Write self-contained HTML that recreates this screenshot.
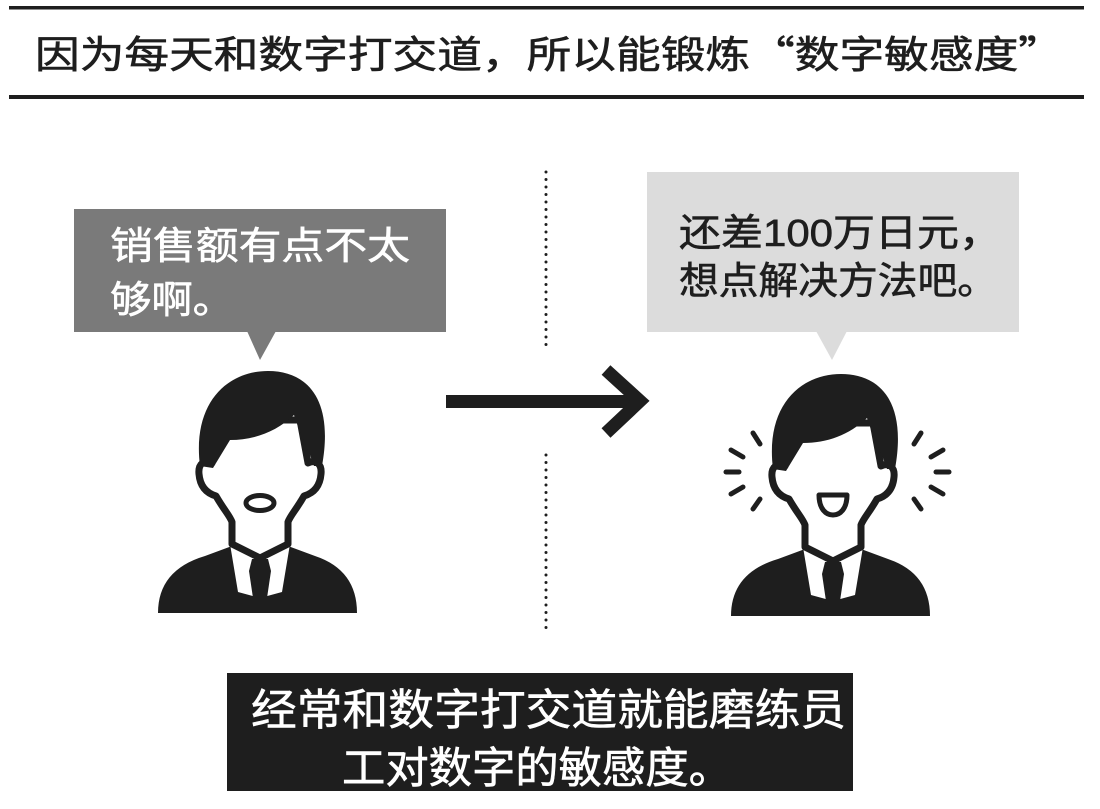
<!DOCTYPE html>
<html><head><meta charset="utf-8"><style>
html,body{margin:0;padding:0;background:#fff;}
svg{display:block;}
text{font-family:"Liberation Sans","Noto Sans CJK SC",sans-serif;}
.cjk{font-family:"Noto Sans CJK SC",sans-serif;}
</style></head><body>
<svg width="1100" height="809" viewBox="0 0 1100 809" xmlns="http://www.w3.org/2000/svg">
<defs>
<g id="body">
  <path d="M8,253 Q8,210 55,196 L82,186 L110,196 L138,186 L165,196 Q207,210 207,253 Z" fill="#1e1e1e"/>
  <path d="M80,184 L110,198 L140,184 L132,232 L110,238 L88,232 Z" fill="#fff"/>
  <path d="M102,199 L118,199 L121,211 L117,238 L103,238 L99,211 Z" fill="#1e1e1e"/>
  <path d="M66,136 C74,150 80,156 82,162 L82,184 L110,198 L138,184 L138,162 C140,156 146,150 154,136 C164,133 170,126 171,114 C172,104 166,99 158,103 L150,60 L70,60 L62,103 C54,99 48,104 49,114 C50,126 56,133 66,136 Z" fill="#fff" stroke="#1e1e1e" stroke-width="7" stroke-linejoin="round"/>
  <path d="M50,106 C42,42 78,11 118,11 C158,11 184,40 172,106 L164,106 C158,88 150,74 144,55 C126,72 104,80 80,80 L63,108 Z" fill="#1e1e1e"/>
</g>
</defs>
<rect x="9" y="6" width="1075" height="3.5" fill="#1e1e1e"/>
<rect x="9" y="95" width="1075" height="4" fill="#1e1e1e"/>
<text x="35" y="68" font-size="38" textLength="1028" lengthAdjust="spacingAndGlyphs" fill="#1e1e1e" stroke="#1e1e1e" stroke-width="0.6">因为每天和数字打交道，所以能锻炼<tspan class="cjk">“</tspan>数字敏感度<tspan class="cjk">”</tspan></text>

<rect x="74" y="209" width="372" height="123" fill="#7a7a7a"/>
<path d="M247,331 L276,331 L260,360 Z" fill="#7a7a7a"/>
<text x="110" y="259" font-size="38" fill="#fff" stroke="#fff" stroke-width="0.6" textLength="300" lengthAdjust="spacingAndGlyphs">销售额有点不太</text>
<text x="110" y="313" font-size="38" fill="#fff" stroke="#fff" stroke-width="0.6" textLength="124" lengthAdjust="spacingAndGlyphs">够啊。</text>

<rect x="647" y="172" width="372" height="160" fill="#dcdcdc"/>
<path d="M816,331 L847,331 L832,360 Z" fill="#dcdcdc"/>
<text x="679" y="246" font-size="38" fill="#1e1e1e" stroke="#1e1e1e" stroke-width="0.6" textLength="322" lengthAdjust="spacingAndGlyphs">还差100万日元，</text>
<text x="679" y="294" font-size="38" fill="#1e1e1e" stroke="#1e1e1e" stroke-width="0.6" textLength="318" lengthAdjust="spacingAndGlyphs">想点解决方法吧。</text>

<line x1="546" y1="172" x2="546" y2="350" stroke="#1e1e1e" stroke-width="3" stroke-dasharray="0 7.5" stroke-linecap="round"/>
<line x1="546" y1="455" x2="546" y2="630" stroke="#1e1e1e" stroke-width="3" stroke-dasharray="0 7.5" stroke-linecap="round"/>

<rect x="446" y="395" width="190" height="13" fill="#1e1e1e"/>
<path d="M606,370 L640,401 L606,433" fill="none" stroke="#1e1e1e" stroke-width="13" stroke-linecap="butt" stroke-linejoin="miter"/>

<g transform="translate(150,360)">
  <use href="#body"/>
  <ellipse cx="110" cy="143" rx="14" ry="7.5" fill="#fff" stroke="#1e1e1e" stroke-width="5"/>
</g>
<g transform="translate(723,363)">
  <use href="#body"/>
  <path d="M96,132 L124,132 C124,146 117,152 110,152 C103,152 96,146 96,132 Z" fill="#fff" stroke="#1e1e1e" stroke-width="5" stroke-linejoin="round"/>
  <g stroke="#1e1e1e" stroke-width="5" stroke-linecap="round">
    <line x1="30" y1="70" x2="37" y2="81"/>
    <line x1="8" y1="87" x2="20" y2="94"/>
    <line x1="3" y1="109" x2="16" y2="109"/>
    <line x1="8" y1="131" x2="20" y2="124"/>
    <line x1="30" y1="146" x2="37" y2="136"/>
    <line x1="198" y1="70" x2="191" y2="81"/>
    <line x1="220" y1="87" x2="208" y2="94"/>
    <line x1="226" y1="109" x2="213" y2="109"/>
    <line x1="220" y1="131" x2="208" y2="124"/>
    <line x1="198" y1="146" x2="191" y2="136"/>
  </g>
</g>

<rect x="227" y="673" width="626" height="118" fill="#1e1e1e"/>
<text x="251" y="725" font-size="43" fill="#fff" stroke="#fff" stroke-width="0.6" textLength="595" lengthAdjust="spacingAndGlyphs">经常和数字打交道就能磨练员</text>
<text x="342" y="783" font-size="43" fill="#fff" stroke="#fff" stroke-width="0.6" textLength="390" lengthAdjust="spacingAndGlyphs">工对数字的敏感度。</text>
</svg>
</body></html>
